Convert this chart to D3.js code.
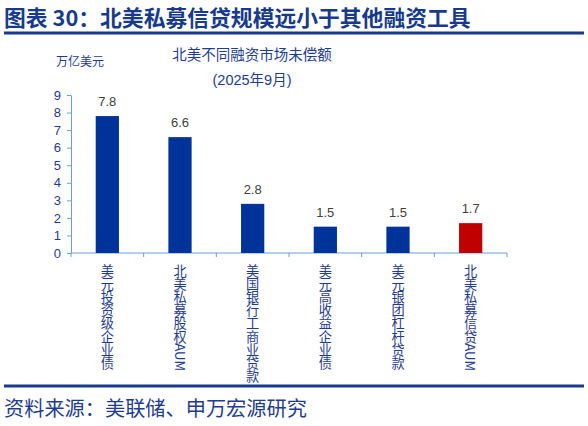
<!DOCTYPE html>
<html>
<head>
<meta charset="utf-8">
<script src="https://cdn.jsdelivr.net/npm/d3@7"></script>
<style>
  body { margin: 0; background: #fff; }
  svg { display: block; }
</style>
</head>
<body>
<div id="vis"></div>
<script>
// Chart data
const CATEGORIES = ["美元投资级企业债", "北美私募股权AUM", "美国银行工商业贷款",
                    "美元高收益企业债", "美元银团杠杆贷款", "北美私募信贷AUM"];
const VALUES = [7.8, 6.6, 2.8, 1.5, 1.5, 1.7];
const Y_TICKS = [0, 1, 2, 3, 4, 5, 6, 7, 8, 9];
const HIGHLIGHT = "北美私募信贷AUM";

// Frame and plot area
const FRAME_WIDTH = 588;
const FRAME_HEIGHT = 426;
const PLOT = {left: 71, right: 507, top: 95, bottom: 253};

const NAVY = "#1f3c8f";
const AXIS_COLOR = "#6a9fd8";
const LATIN = "'Liberation Sans', Arial, 'Noto Sans CJK SC', sans-serif";
const CJK = "'Noto Sans CJK SC', sans-serif";

const FRAME = d3.select("#vis")
  .append("svg")
    .attr("width", FRAME_WIDTH)
    .attr("height", FRAME_HEIGHT);

// Header title and rules
FRAME.append("text")
  .attr("x", 4)
  .attr("y", 26)
  .attr("font-family", CJK)
  .attr("font-weight", "bold")
  .attr("font-size", "21.8px")
  .attr("fill", "#173a8c")
  .text("图表 30：北美私募信贷规模远小于其他融资工具");

FRAME.append("line")
  .attr("x1", 4).attr("x2", 584)
  .attr("y1", 33).attr("y2", 33)
  .attr("stroke", "#173a8c")
  .attr("stroke-width", 3);

FRAME.append("line")
  .attr("x1", 4).attr("x2", 584)
  .attr("y1", 386).attr("y2", 386)
  .attr("stroke", "#173a8c")
  .attr("stroke-width", 3);

FRAME.append("text")
  .attr("x", 4)
  .attr("y", 416)
  .attr("font-family", CJK)
  .attr("font-size", "20.2px")
  .attr("fill", NAVY)
  .text("资料来源：美联储、申万宏源研究");

// Chart title and unit
FRAME.append("text")
  .attr("x", 252)
  .attr("y", 60)
  .attr("text-anchor", "middle")
  .attr("font-family", CJK)
  .attr("font-size", "14.5px")
  .attr("fill", NAVY)
  .text("北美不同融资市场未偿额");

FRAME.append("text")
  .attr("x", 252)
  .attr("y", 85)
  .attr("text-anchor", "middle")
  .attr("font-family", LATIN)
  .attr("font-size", "14.5px")
  .attr("fill", NAVY)
  .text("(2025年9月)");

FRAME.append("text")
  .attr("x", 80)
  .attr("y", 66)
  .attr("text-anchor", "middle")
  .attr("font-family", CJK)
  .attr("font-size", "12px")
  .attr("fill", NAVY)
  .text("万亿美元");

// Scales
const X_SCALE = d3.scaleBand()
  .domain(CATEGORIES)
  .range([PLOT.left, PLOT.right])
  .padding(0);

const Y_SCALE = d3.scaleLinear()
  .domain([0, 9])
  .range([PLOT.bottom, PLOT.top]);

const BAR_WIDTH = X_SCALE.bandwidth() * 0.32;

// Y axis
const yAxis = FRAME.append("g")
  .attr("transform", "translate(" + PLOT.left + ",0)")
  .call(d3.axisLeft(Y_SCALE).tickValues(Y_TICKS).tickSize(4).tickSizeOuter(0).tickPadding(6));
yAxis.select(".domain").attr("stroke", AXIS_COLOR);
yAxis.selectAll(".tick line").attr("stroke", AXIS_COLOR);
yAxis.selectAll(".tick text")
  .attr("font-family", LATIN)
  .attr("font-size", "13px")
  .attr("fill", NAVY);

// X axis line with boundary ticks
FRAME.append("line")
  .attr("x1", PLOT.left).attr("x2", PLOT.right)
  .attr("y1", PLOT.bottom).attr("y2", PLOT.bottom)
  .attr("stroke", AXIS_COLOR);

const boundaries = CATEGORIES.map((d) => X_SCALE(d)).concat([X_SCALE.range()[1]]);
FRAME.append("g")
  .selectAll("line")
  .data(boundaries)
  .enter()
  .append("line")
    .attr("x1", (d) => d).attr("x2", (d) => d)
    .attr("y1", PLOT.bottom).attr("y2", PLOT.bottom + 4)
    .attr("stroke", AXIS_COLOR);

// Bars
const data = CATEGORIES.map((c, i) => ({category: c, value: VALUES[i]}));

FRAME.append("g")
  .selectAll("rect")
  .data(data)
  .enter()
  .append("rect")
    .attr("x", (d) => X_SCALE(d.category) + (X_SCALE.bandwidth() - BAR_WIDTH) / 2)
    .attr("y", (d) => Y_SCALE(d.value))
    .attr("width", BAR_WIDTH)
    .attr("height", (d) => Y_SCALE(0) - Y_SCALE(d.value))
    .attr("fill", (d) => d.category === HIGHLIGHT ? "#c00000" : "#003399");

// Value labels
FRAME.append("g")
  .selectAll("text")
  .data(data)
  .enter()
  .append("text")
    .attr("x", (d) => X_SCALE(d.category) + X_SCALE.bandwidth() / 2)
    .attr("y", (d) => Y_SCALE(d.value) - 10)
    .attr("text-anchor", "middle")
    .attr("font-family", LATIN)
    .attr("font-size", "13px")
    .attr("fill", "#404040")
    .text((d) => d.value.toFixed(1));

// Vertical category labels
FRAME.append("g")
  .selectAll("text")
  .data(CATEGORIES)
  .enter()
  .append("text")
    .attr("x", (d) => X_SCALE(d) + X_SCALE.bandwidth() / 2)
    .attr("y", PLOT.bottom + 11)
    .style("writing-mode", "vertical-rl")
    .attr("font-family", CJK)
    .attr("font-size", "13.2px")
    .attr("fill", NAVY)
    .text((d) => d);
</script>
</body>
</html>
